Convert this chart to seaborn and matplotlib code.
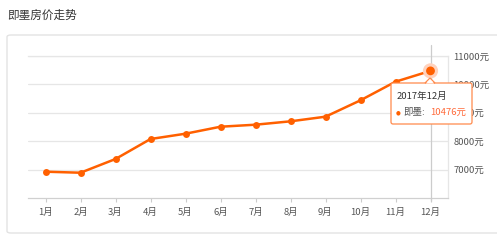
import matplotlib
matplotlib.use("Agg")
import matplotlib.pyplot as plt
from matplotlib.patches import FancyBboxPatch, Polygon
import seaborn as sns
import pandas as pd

months = ["1月", "2月", "3月", "4月", "5月", "6月", "7月", "8月", "9月", "10月", "11月", "12月"]
prices = [6926, 6890, 7373, 8077, 8264, 8510, 8581, 8700, 8863, 9440, 10095, 10476]
yticks = [7000, 8000, 9000, 10000, 11000]
ytick_labels = ["7000元", "8000元", "9000元", "10000元", "11000元"]
title = "即墨房价走势"
tip_title = "2017年12月"
tip_name = "即墨:"
tip_value = "10476元"

sns.set_theme(style="white")
FONT = ["Noto Sans CJK SC", "DejaVu Sans"]
plt.rcParams["font.family"] = FONT

W, H = 497, 240
fig = plt.figure(figsize=(W / 100, H / 100), dpi=100)
fig.patch.set_facecolor("white")

def fx(px):
    return px / W

def fy(py):
    return 1 - py / H

# card border
card = FancyBboxPatch((fx(7), fy(233)), fx(505) - fx(7), fy(35) - fy(233),
                      boxstyle="round,pad=0,rounding_size=0.008",
                      transform=fig.transFigure, facecolor="white",
                      edgecolor="#e3e3e3", linewidth=1.0, zorder=-5)
fig.patches.append(card)

fig.text(fx(7.5), fy(15), title, fontsize=8.4, color="#333333", va="center", ha="left")

ax = fig.add_axes([fx(28), fy(198), fx(448) - fx(28), fy(56) - fy(198)])
ax.set_zorder(2)
ax.set_facecolor("none")

df = pd.DataFrame({"month": months, "price": prices})
orange = "#ff6000"
sns.lineplot(data=df, x="month", y="price", ax=ax, color=orange, linewidth=1.8,
             marker="o", markersize=5, markeredgewidth=0, zorder=5, sort=False)

ax.set_xlim(-0.5, len(months) - 0.5)
ax.set_ylim(6000, 11000)
ax.set_xlabel("")
ax.set_ylabel("")

ax.yaxis.tick_right()
ax.set_yticks(yticks)
ax.set_yticklabels(ytick_labels)
ax.tick_params(axis="y", length=0, pad=4, labelsize=6.8, labelcolor="#555555")
ax.tick_params(axis="x", length=3, width=0.8, color="#cccccc", pad=4,
               labelsize=6.8, labelcolor="#555555", bottom=True)
for t in ax.get_xticklabels() + ax.get_yticklabels():
    t.set_fontfamily(FONT)

ax.grid(axis="y", color="#e6e6e6", linewidth=0.9)
ax.grid(axis="x", visible=False)
ax.spines["left"].set_visible(False)
ax.spines["top"].set_color("#e6e6e6")
ax.spines["top"].set_linewidth(0.9)
ax.spines["right"].set_color("#e6e6e6")
ax.spines["right"].set_linewidth(0.9)
ax.spines["bottom"].set_color("#d0d0d0")
ax.spines["bottom"].set_linewidth(0.9)

# crosshair at last month
ax.axvline(months[-1], ymin=-0.02, ymax=1.08, color="#cccccc", linewidth=0.9,
           clip_on=False, zorder=3)

# highlighted point
ax.scatter([months[-1]], [prices[-1]], s=120, color="#ffd2bd", zorder=6,
           edgecolor="none", clip_on=False)
ax.scatter([months[-1]], [prices[-1]], s=40, color=orange, zorder=7,
           edgecolor="none", clip_on=False)

# tooltip (drawn on an overlay axes above the chart)
ov = fig.add_axes([0, 0, 1, 1])
ov.set_zorder(10)
ov.set_xlim(0, W)
ov.set_ylim(H, 0)
ov.axis("off")
ov.patch.set_alpha(0)

bx0, bx1, by0, by1 = 391, 472, 83, 124
box = FancyBboxPatch((bx0, by0), bx1 - bx0, by1 - by0,
                     boxstyle="round,pad=0,rounding_size=2",
                     facecolor="white", edgecolor="#ff8a4c", linewidth=0.9, zorder=20)
ov.add_patch(box)
tri = Polygon([(425, 83), (430, 78), (435, 83)], closed=True, facecolor="white",
              edgecolor="#ff8a4c", linewidth=0.9, zorder=21)
ov.add_patch(tri)
cover = Polygon([(425.8, 83.6), (430, 79.6), (434.2, 83.6)], closed=True,
                facecolor="white", edgecolor="none", zorder=22)
ov.add_patch(cover)

ov.text(397, 96, tip_title, fontsize=6.8, color="#333333", va="center", ha="left", zorder=25)
ov.text(398, 112.5, "●", fontsize=4, color=orange, va="center", ha="center", zorder=25,
        family=["DejaVu Sans"])
ov.text(403, 112, tip_name, fontsize=6.8, color="#555555", va="center", ha="left", zorder=25)
ov.text(430, 112, tip_value, fontsize=6.8, color="#ff6a3a", va="center", ha="left", zorder=25)

fig.savefig("out.png", dpi=100, facecolor="white")
